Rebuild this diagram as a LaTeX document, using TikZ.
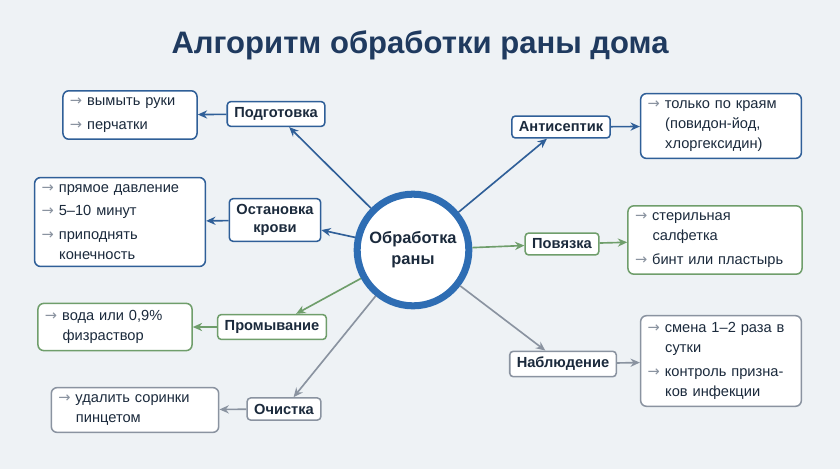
\documentclass[tikz,border=0pt]{standalone}
\usepackage{fontspec}
\setmainfont{Liberation Sans}
\newfontfamily\arrfont{DejaVu Sans}
\usetikzlibrary{arrows.meta}
\definecolor{bgc}{HTML}{EEF2F5}
\definecolor{blu}{HTML}{2F5F98}
\definecolor{ring}{HTML}{2E6DB3}
\definecolor{grn}{HTML}{6F9E6B}
\definecolor{gry}{HTML}{8A93A0}
\definecolor{ink}{HTML}{1B2A3C}
\definecolor{ttl}{HTML}{1F3A5F}
\newcommand\itm{{\color{gry}\arrfont →}\ }
\newcommand\ind{\hspace*{1.2em}}
\tikzstyle{cat}=[draw,rounded corners=3pt,fill=white,line width=1.3pt,font=\bfseries\fontsize{12.5}{15}\selectfont,align=center,inner xsep=6pt,inner ysep=5pt,text=ink]
\tikzstyle{items}=[draw,rounded corners=5pt,fill=white,line width=1.3pt,font=\fontsize{12.5}{17}\selectfont,align=left,text=ink,inner xsep=6pt,inner ysep=6pt]
\tikzstyle{link}=[draw,line width=1.4pt,-{Stealth[length=8pt,width=7pt]}]
\begin{document}
\begin{tikzpicture}[x=0.03cm,y=-0.03cm]
        \fill[bgc] (0,0) rectangle (840,469);
        \node[font=\bfseries\fontsize{26.5}{30}\selectfont,text=ttl] (title) at (420,45) {Алгоритм обработки раны дома};
        \node[circle,draw=ring,line width=6pt,fill=white,minimum size=3.35cm,font=\bfseries\fontsize{14}{18}\selectfont,align=center,text=ink] (c) at (413,250) {Обработка\\раны};
        % left side
        \node[cat,draw=blu] (prep) at (276,114) {Подготовка};
        \node[cat,draw=blu] (stop) at (275,220) {Остановка\\крови};
        \node[cat,draw=grn] (wash) at (272,327) {Промывание};
        \node[cat,draw=gry] (clean) at (284,409) {Очистка};
        \node[items,draw=blu,text width=3.6cm] (i1) at (130,115) {\itm вымыть руки\\[3pt]\itm перчатки};
        \node[items,draw=blu,text width=4.7cm] (i2) at (120,222) {\itm прямое давление\\[3pt]\itm 5–10 минут\\[3pt]\itm приподнять\\\ind конечность};
        \node[items,draw=grn,text width=4.2cm] (i3) at (115,327) {\itm вода или 0,9\%\\\ind физраствор};
        \node[items,draw=gry,text width=4.6cm] (i4) at (135,410) {\itm удалить соринки\\\ind пинцетом};
        % right side
        \node[cat,draw=blu] (anti) at (561,127) {Антисептик};
        \node[cat,draw=grn] (band) at (562,244) {Повязка};
        \node[cat,draw=gry] (watch) at (563,364) {Наблюдение};
        \node[items,draw=blu,text width=4.4cm] (i5) at (721,126) {\itm только по краям\\\ind (повидон-йод,\\\ind хлоргексидин)};
        \node[items,draw=grn,text width=4.8cm] (i6) at (715,240) {\itm стерильная\\\ind салфетка\\[3pt]\itm бинт или пластырь};
        \node[items,draw=gry,text width=4.4cm] (i7) at (721,361) {\itm смена 1–2 раза в\\\ind сутки\\[3pt]\itm контроль призна-\\\ind ков инфекции};
        \path[link,blu] (c) -- (prep);
        \path[link,blu] (c) -- (stop);
        \path[link,grn] (c) -- (wash);
        \path[link,gry] (c) -- (clean);
        \path[link,blu] (c) -- (anti);
        \path[link,grn] (c) -- (band);
        \path[link,gry] (c) -- (watch);
        \path[link,blu] (prep) -- (i1);
        \path[link,blu] (stop) -- (i2);
        \path[link,grn] (wash) -- (i3);
        \path[link,gry] (clean) -- (i4);
        \path[link,blu] (anti) -- (i5);
        \path[link,grn] (band) -- (i6);
        \path[link,gry] (watch) -- (i7);
    \end{tikzpicture}
\end{document}
